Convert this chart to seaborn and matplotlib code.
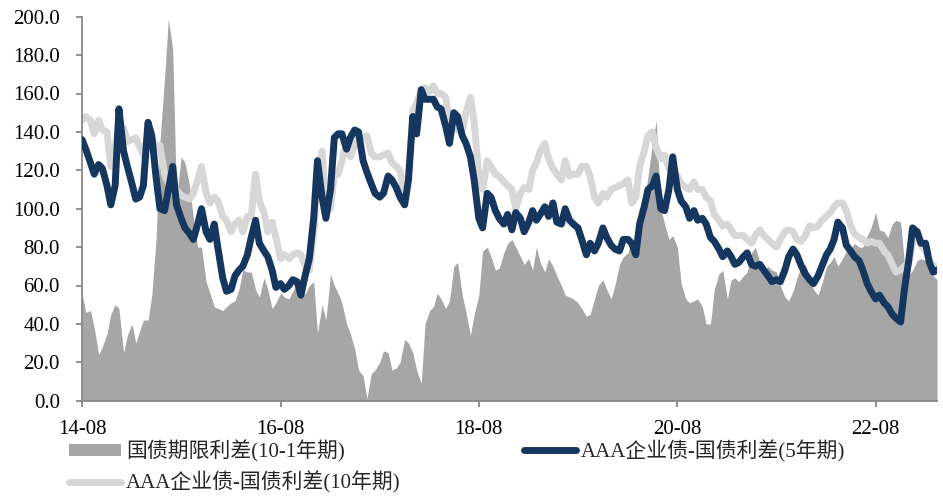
import numpy as np
import pandas as pd
import matplotlib
matplotlib.use("Agg")
import matplotlib.pyplot as plt
import matplotlib.dates as mdates
from matplotlib.patches import Patch
from matplotlib.lines import Line2D
import seaborn as sns

# Semi-monthly observations, Aug 2014 - Mar 2023 (bp)
start_date = "2014-08-01"
n_obs = 208

# 国债期限利差 (10Y - 1Y)
term_spread = [
    56, 46, 47, 38, 24, 28, 35, 45, 50, 48,
    25, 34, 40, 30, 36, 42, 42, 55, 85, 135,
    168, 199, 183, 105, 127, 124, 112, 95, 80, 80,
    62, 56, 49, 48, 47, 49, 51, 52, 58, 68,
    67, 67, 58, 54, 64, 58, 48, 51, 56, 54,
    53, 57, 61, 54, 56, 60, 62, 35, 50, 42,
    66, 60, 56, 51, 40, 35, 27, 16, 13, 1,
    14, 16, 20, 26, 25, 16, 17, 20, 32, 30,
    25, 16, 9, 40, 47, 49, 56, 53, 48, 52,
    70, 72, 55, 46, 34, 45, 55, 78, 80, 75,
    68, 69, 77, 82, 84, 80, 75, 71, 74, 68,
    80, 72, 67, 74, 70, 65, 60, 55, 54, 53,
    51, 48, 44, 45, 53, 60, 63, 58, 53, 60,
    71, 75, 77, 84, 80, 92, 103, 117, 134, 146,
    100, 92, 84, 86, 80, 61, 53, 51, 52, 53,
    49, 40, 40, 58, 66, 68, 53, 63, 64, 62,
    65, 67, 77, 80, 72, 68, 70, 68, 67, 60,
    54, 52, 57, 64, 70, 71, 65, 58, 55, 61,
    70, 72, 75, 70, 74, 78, 79, 82, 80, 80,
    86, 90, 98, 89, 88, 85, 92, 94, 93, 72,
    65, 68, 73, 74, 73, 68, 65, 63,
]

# AAA企业债 - 国债利差 (5Y)
aaa_5y = [
    136, 131, 124, 118, 123, 121, 112, 102, 112, 152,
    130, 122, 113, 105, 106, 112, 145, 138, 116, 100,
    99, 110, 122, 102, 95, 90, 87, 84, 92, 100,
    88, 84, 92, 79, 64, 57, 58, 65, 68, 70,
    76, 85, 94, 82, 78, 75, 68, 59, 61, 58,
    60, 63, 62, 55, 66, 74, 95, 125, 106, 95,
    110, 137, 139, 139, 131, 137, 141, 140, 125, 119,
    113, 108, 106, 108, 117, 115, 111, 106, 102, 115,
    148, 139, 162, 157, 157, 157, 153, 152, 143, 134,
    150, 148, 138, 134, 127, 115, 95, 90, 108, 106,
    99, 95, 92, 97, 89, 98, 95, 88, 93, 99,
    94, 97, 101, 96, 103, 93, 92, 100, 94, 92,
    90, 84, 76, 82, 78, 82, 90, 85, 81, 79,
    78, 84, 84, 82, 76, 92, 101, 110, 112, 117,
    100, 99, 110, 127, 110, 104, 101, 95, 99, 94,
    95, 92, 85, 83, 79, 75, 78, 75, 71, 72,
    75, 77, 71, 70, 71, 68, 65, 62, 63, 62,
    68, 75, 79, 76, 70, 66, 63, 61, 65, 70,
    76, 79, 84, 93, 90, 81, 78, 75, 73, 68,
    61, 57, 53, 55, 51, 49, 45, 43, 41, 58,
    73, 90, 88, 82, 82, 72, 67, 68,
]

# AAA企业债 - 国债利差 (10Y)
aaa_10y = [
    146, 148, 146, 139, 146, 141, 140, 122, 132, 143,
    142, 135, 136, 137, 132, 128, 139, 137, 131, 133,
    118, 113, 114, 110, 107, 106, 105, 108, 115, 122,
    108, 103, 106, 104, 96, 94, 88, 92, 94, 88,
    96, 96, 118, 104, 98, 88, 93, 85, 74, 76,
    74, 76, 77, 76, 70, 68, 88, 113, 130, 99,
    100, 118, 118, 125, 134, 127, 133, 137, 137, 138,
    129, 127, 127, 128, 129, 124, 122, 120, 106, 118,
    151, 155, 162, 163, 161, 164, 160, 160, 158, 146,
    146, 141, 141, 150, 158, 145, 117, 110, 125, 122,
    118, 117, 114, 112, 110, 100, 108, 111, 110, 120,
    124, 130, 134, 126, 121, 118, 115, 125, 117, 118,
    118, 122, 122, 117, 106, 103, 108, 106, 110, 111,
    112, 113, 115, 103, 106, 122, 130, 138, 140, 132,
    126, 128, 121, 119, 117, 113, 111, 110, 114, 110,
    110, 106, 104, 97, 94, 91, 92, 89, 86, 86,
    86, 84, 82, 86, 89, 86, 84, 82, 80, 84,
    88, 89, 88, 84, 83, 86, 91, 90, 91, 94,
    96, 98, 101, 103, 103, 99, 91, 87, 85, 84,
    82, 83, 82, 82, 78, 76, 71, 67, 68, 70,
    72, 82, 86, 81, 78, 73, 70, 70,
]

labels = ["国债期限利差(10-1年期)", "AAA企业债-国债利差(5年期)", "AAA企业债-国债利差(10年期)"]
y_ticks = [0, 20, 40, 60, 80, 100, 120, 140, 160, 180, 200]
x_tick_dates = ["2014-08-01", "2016-08-01", "2018-08-01", "2020-08-01", "2022-08-01"]

c_area = "#A6A6A6"
c_5y = "#15365E"
c_10y = "#D7D7D7"
c_axis = "#878787"

dates = pd.date_range(start_date, periods=n_obs, freq="SMS")
assert len(term_spread) == len(aaa_5y) == len(aaa_10y) == n_obs
df = pd.DataFrame({"date": dates, "term": term_spread, "aaa5": aaa_5y, "aaa10": aaa_10y})

sns.set_theme(style="white")
plt.rcParams["font.family"] = ["Liberation Serif", "Noto Sans CJK SC"]
plt.rcParams["axes.unicode_minus"] = False

fig = plt.figure(figsize=(9.43, 4.97), dpi=100)
ax = fig.add_axes([82 / 943, (497 - 400.7) / 497, (937 - 82) / 943, (400.7 - 16.7) / 497])

ax.fill_between(df["date"], 0, df["term"], color=c_area, linewidth=0, zorder=1)
sns.lineplot(data=df, x="date", y="aaa5", color=c_5y, linewidth=5, ax=ax,
             solid_joinstyle="round", solid_capstyle="round", zorder=3)
sns.lineplot(data=df, x="date", y="aaa10", color=c_10y, linewidth=5, ax=ax,
             solid_joinstyle="round", solid_capstyle="round", zorder=2)

ax.set_xlim(dates[0], dates[-1])
ax.set_ylim(0, 200)
ax.set_yticks(y_ticks)
ax.yaxis.set_major_formatter(matplotlib.ticker.FormatStrFormatter("%.1f"))
ax.set_xticks(pd.to_datetime(x_tick_dates))
ax.xaxis.set_major_formatter(mdates.DateFormatter("%y-%m"))
ax.set_xlabel("")
ax.set_ylabel("")

for side in ["top", "right"]:
    ax.spines[side].set_visible(False)
for side in ["left", "bottom"]:
    ax.spines[side].set_color(c_axis)
    ax.spines[side].set_linewidth(1.3)
ax.tick_params(axis="both", which="major", direction="out", length=4, width=1.3,
               color=c_axis, labelsize=15, labelcolor="black")
ax.tick_params(axis="y", pad=12, left=True)
ax.tick_params(axis="x", pad=10, bottom=True)

handles = [
    Patch(facecolor=c_area, edgecolor="none"),
    Line2D([], [], color=c_10y, linewidth=5, solid_capstyle="round"),
    Line2D([], [], color=c_5y, linewidth=5, solid_capstyle="round"),
]
leg_labels = [labels[0], labels[2], labels[1]]
fig.legend(handles, leg_labels, loc="upper left", bbox_to_anchor=(69 / 943, 1 - 440 / 497),
           ncol=2, frameon=False, fontsize=15, handlelength=2.5, handleheight=0.55,
           handletextpad=0.25, columnspacing=5.9, labelspacing=0.45, borderpad=0,
           borderaxespad=0)

fig.savefig("out.png", dpi=100)
